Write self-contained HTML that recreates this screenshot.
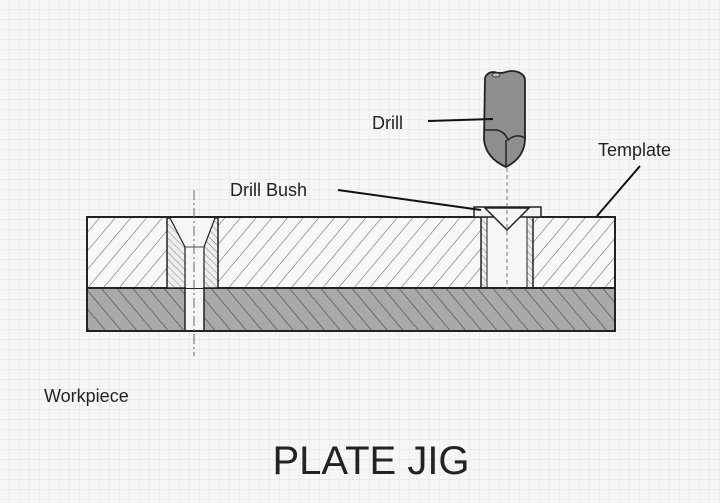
<!DOCTYPE html>
<html><head><style>
body{margin:0;width:720px;height:503px;overflow:hidden;background:#f6f6f6;}
svg{display:block}
</style></head><body>
<svg width="720" height="503" viewBox="0 0 720 503" xmlns="http://www.w3.org/2000/svg" font-family="Liberation Sans, sans-serif">
<defs>
<pattern id="grid" width="10" height="10" patternUnits="userSpaceOnUse">
<path d="M10 0V10M0 10H10" stroke="#e2e2e2" stroke-width="1" fill="none"/>
</pattern>
<pattern id="h1" width="12" height="12" patternUnits="userSpaceOnUse" patternTransform="rotate(40)">
<rect width="12" height="12" fill="#f8f8f8"/><line x1="0" y1="0" x2="0" y2="12" stroke="#555" stroke-width="1"/>
</pattern>
<pattern id="h2" width="12" height="12" patternUnits="userSpaceOnUse" patternTransform="rotate(-40)">
<rect width="12" height="12" fill="#a9a9a9"/><line x1="0" y1="0" x2="0" y2="12" stroke="#444" stroke-width="1.2"/>
</pattern>
<pattern id="h3" width="5" height="5" patternUnits="userSpaceOnUse" patternTransform="rotate(-45)">
<rect width="5" height="5" fill="#eee"/><line x1="0" y1="0" x2="0" y2="5" stroke="#666" stroke-width="0.8"/>
</pattern>
</defs>
<rect width="720" height="503" fill="url(#grid)"/>
<!-- workpiece -->
<rect x="87" y="288" width="528" height="43" fill="url(#h2)" stroke="#222" stroke-width="2"/>
<rect x="185" y="289" width="19" height="41" fill="#f6f6f6"/>
<line x1="185" y1="288" x2="185" y2="331" stroke="#222" stroke-width="1.5"/>
<line x1="204" y1="288" x2="204" y2="331" stroke="#222" stroke-width="1.5"/>
<!-- template -->
<rect x="87" y="217" width="528" height="71" fill="url(#h1)" stroke="#222" stroke-width="2"/>
<!-- left bush -->
<polygon points="167,218 218,218 218,288 167,288" fill="url(#h3)" stroke="#222" stroke-width="1.5"/>
<polygon points="170,218 215,218 204,247 185,247" fill="#f6f6f6"/>
<polyline points="170,218 185,247 185,288" fill="none" stroke="#222" stroke-width="1.2"/>
<polyline points="215,218 204,247 204,288" fill="none" stroke="#222" stroke-width="1.2"/>
<rect x="186" y="247" width="17" height="41" fill="#f6f6f6"/>
<line x1="185" y1="247" x2="204" y2="247" stroke="#444" stroke-width="1"/>
<!-- right bush -->
<rect x="481" y="217" width="52" height="71" fill="url(#h3)" stroke="#222" stroke-width="1.5"/>
<rect x="487" y="217" width="40" height="71" fill="#f6f6f6" stroke="#222" stroke-width="1"/>
<rect x="474" y="207" width="67" height="10" fill="#f2f2f2" stroke="#222" stroke-width="1.5"/>
<polygon points="485,208 529,208 507,230" fill="#f6f6f6" stroke="#222" stroke-width="1.5"/>
<line x1="481" y1="288" x2="533" y2="288" stroke="#222" stroke-width="2"/>
<!-- centerlines -->
<line x1="194" y1="190" x2="194" y2="356" stroke="#666" stroke-width="1" stroke-dasharray="10,3,2,3"/>
<line x1="507" y1="168" x2="507" y2="292" stroke="#777" stroke-width="1" stroke-dasharray="4,3"/>
<!-- drill -->
<path d="M485 78 Q487 72 494 72 Q500 74 506 72 Q512 70 518 72 Q525 75 525 80 L525 140 Q524 158 506 167 Q486 158 484 140 Z" fill="#8e8e8e" stroke="#222" stroke-width="1.8"/>
<path d="M484 130 L497 130 Q505 132 508 140 Q516 133 525 138" fill="none" stroke="#222" stroke-width="1.5"/>
<path d="M506 140 L506 167" stroke="#222" stroke-width="1.5"/>
<ellipse cx="496" cy="75" rx="4" ry="2" fill="#bbb" stroke="#333" stroke-width="0.8"/>
<!-- leaders -->
<line x1="428" y1="121" x2="493" y2="119" stroke="#111" stroke-width="2"/>
<line x1="338" y1="190" x2="481" y2="210" stroke="#111" stroke-width="2"/>
<line x1="640" y1="166" x2="597" y2="216" stroke="#111" stroke-width="2"/>
<!-- labels -->
<text x="372" y="129" font-size="18" fill="#222">Drill</text>
<text x="230" y="196" font-size="18" fill="#222">Drill Bush</text>
<text x="598" y="156" font-size="18" fill="#222">Template</text>
<text x="44" y="402" font-size="18" fill="#222">Workpiece</text>
<text x="371" y="474" font-size="40" fill="#222" text-anchor="middle">PLATE JIG</text>
</svg>
</body></html>
